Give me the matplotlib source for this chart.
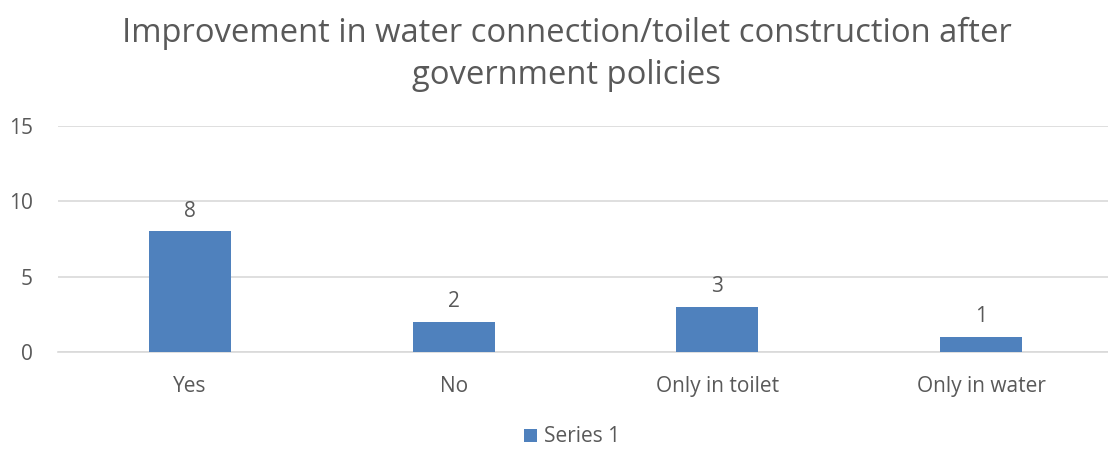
import matplotlib.pyplot as plt

plt.rcParams['font.family'] = ['Open Sans', 'DejaVu Sans']

categories = ["Yes", "No", "Only in toilet", "Only in water"]
values = [8, 2, 3, 1]
yticks = [0, 5, 10, 15]
title = "Improvement in water connection/toilet construction after\ngovernment policies"

grey = "#595959"
blue = "#4F81BD"

fig = plt.figure(figsize=(11.08, 4.5), dpi=100)
ax = fig.add_axes([58 / 1108, 98 / 450, 1055 / 1108, 226 / 450])

x = range(len(categories))
bars = ax.bar(x, values, width=0.31, color=blue, label="Series 1", zorder=3)
for b, v in zip(bars, values):
    ax.annotate(str(v), (b.get_x() + b.get_width() / 2, v), xytext=(0, 7),
                textcoords="offset points", ha="center", va="bottom",
                fontsize=15, color=grey)

ax.set_xlim(-0.5, len(categories) - 0.5)
ax.set_ylim(0, 15)
ax.set_yticks(yticks)
ax.set_xticks(list(x))
ax.set_xticklabels(categories)
ax.yaxis.grid(True, color="#D9D9D9", linewidth=1.2, zorder=0)
ax.tick_params(axis="both", length=0, labelsize=15, labelcolor=grey)
ax.tick_params(axis="y", pad=18)
ax.tick_params(axis="x", pad=17)
for s in ["top", "right", "left"]:
    ax.spines[s].set_visible(False)
ax.spines["bottom"].set_color("#D9D9D9")
ax.spines["bottom"].set_linewidth(1.2)

fig.text(567 / 1108, 0.962, title, ha="center", va="top", fontsize=23.6,
         color=grey, linespacing=1.34)

fig.legend(loc="center", bbox_to_anchor=(572 / 1108, 1 - 437 / 450),
           frameon=False, fontsize=15, labelcolor=grey,
           handlelength=0.6, handleheight=0.6, handletextpad=0.35)

fig.savefig("out.png", dpi=100)
